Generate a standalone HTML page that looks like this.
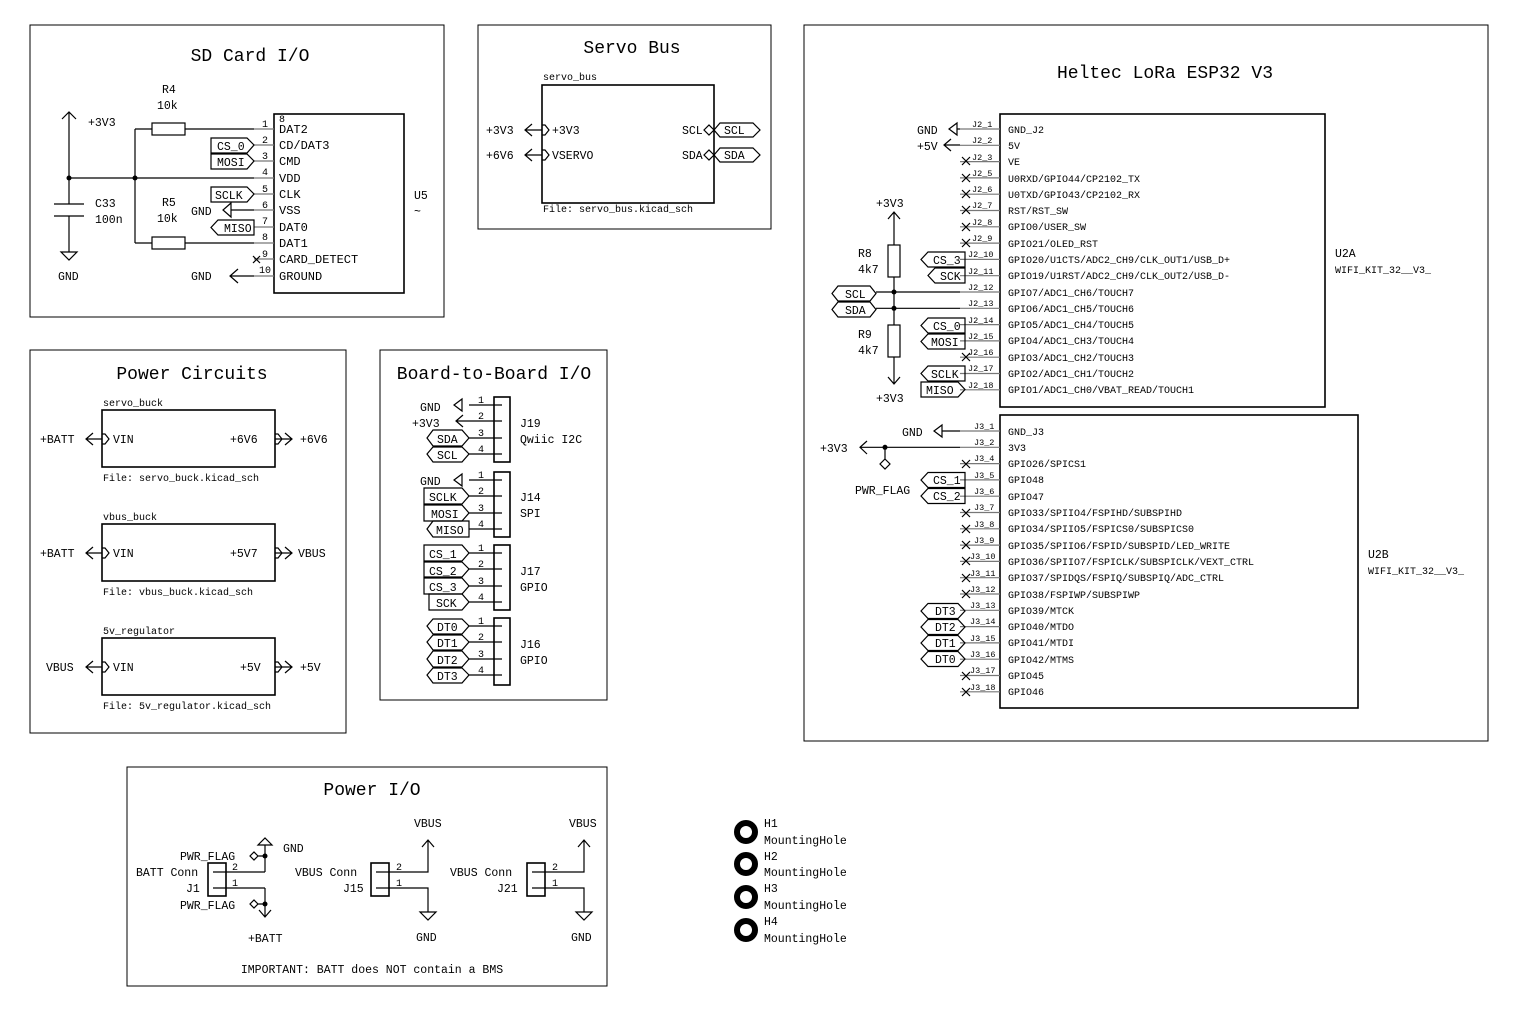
<!DOCTYPE html>
<html><head><meta charset="utf-8"><style>
html,body{margin:0;padding:0;background:#fff;}
svg{display:block}
text{font-family:"Liberation Mono",monospace;fill:#000}
.t{font-size:11.5px}
.s{font-size:10px}
.p{font-size:8.5px}
.q{font-size:10px}
.h{font-size:18px}
.w{stroke:#000;stroke-width:1.2;fill:none}
.g{stroke:#777;stroke-width:1.2;fill:none}
.f{stroke:#000;stroke-width:1;fill:none}
.b{stroke:#000;stroke-width:1.6;fill:none}
</style></head><body>
<svg width="1520" height="1010" viewBox="0 0 1520 1010" xmlns="http://www.w3.org/2000/svg">
<!-- FRAMES -->
<rect x="30" y="25" width="414" height="292" class="f"/>
<rect x="478" y="25" width="293" height="204" class="f"/>
<rect x="804" y="25" width="684" height="716" class="f"/>
<rect x="30" y="350" width="316" height="383" class="f"/>
<rect x="380" y="350" width="227" height="350" class="f"/>
<rect x="127" y="767" width="480" height="219" class="f"/>
<text x="250" y="61" class="h" text-anchor="middle">SD Card I/O</text>
<text x="632" y="53" class="h" text-anchor="middle">Servo Bus</text>
<text x="1165" y="78" class="h" text-anchor="middle">Heltec LoRa ESP32 V3</text>
<text x="192" y="379" class="h" text-anchor="middle">Power Circuits</text>
<text x="494" y="379" class="h" text-anchor="middle">Board-to-Board I/O</text>
<text x="372" y="795" class="h" text-anchor="middle">Power I/O</text>

<!-- SD CARD -->
<rect x="274" y="114" width="130" height="179" class="b"/>
<g class="g">
<path d="M254 129H274M254 145H274M254 161H274M254 178H274M254 194H274M254 210H274M254 227H274M254 243H274M254 259H274M254 276H274"/>
</g>
<g class="s">
<text x="262" y="127">1</text><text x="262" y="143">2</text><text x="262" y="159">3</text><text x="262" y="175">4</text><text x="262" y="192">5</text><text x="262" y="208">6</text><text x="262" y="224">7</text><text x="262" y="240">8</text><text x="262" y="257">9</text><text x="259" y="273">10</text>
</g>
<g style="font-size:12px">
<text x="279" y="133">DAT2</text><text x="279" y="149">CD/DAT3</text><text x="279" y="165">CMD</text><text x="279" y="182">VDD</text><text x="279" y="198">CLK</text><text x="279" y="214">VSS</text><text x="279" y="231">DAT0</text><text x="279" y="247">DAT1</text><text x="279" y="263">CARD_DETECT</text><text x="279" y="280">GROUND</text>
</g>
<g class="t">
<text x="279" y="122" class="s">8</text>
<text x="414" y="199">U5</text><text x="414" y="215">~</text>
<text x="88" y="126">+3V3</text><text x="95" y="207">C33</text><text x="95" y="223">100n</text><text x="58" y="280">GND</text>
<text x="162" y="93">R4</text><text x="157" y="109">10k</text><text x="162" y="206">R5</text><text x="157" y="222">10k</text>
<text x="191" y="215">GND</text><text x="191" y="280">GND</text>
</g>
<g class="w">
<path d="M69 112V204M69 216V252M62 119L69 112L76 119M54 204H84M54 216H84M61 252H77L69 260Z"/>
<path d="M69 178H254M135 129V243M135 129H152M185 129H254M135 243H152M185 243H254"/>
<rect x="152" y="123" width="33" height="12"/><rect x="152" y="237" width="33" height="12"/>
<path d="M231 210H254M231 203V217L223 210Z"/>
<path d="M230 276H254M238 269L230 276L238 283"/>
<path d="M253 256l7 7M253 263l7 -7"/>
</g>
<circle cx="69" cy="178" r="2.5"/><circle cx="135" cy="178" r="2.5"/>
<g class="w">
<path d="M211 138H247L254 145L247 153H211Z"/>
<path d="M211 154H247L254 161L247 169H211Z"/>
<path d="M211 187H247L254 194L247 202H211Z"/>
<path d="M218 220H254V235H218L211 227.5Z"/>
</g>
<g class="t"><text x="217" y="150">CS_0</text><text x="217" y="166">MOSI</text><text x="215" y="199">SCLK</text><text x="224" y="232">MISO</text></g>

<!-- SERVO BUS -->
<rect x="542" y="85" width="172" height="118" class="b"/>
<g class="t">
<text x="543" y="80" class="s">servo_bus</text>
<text x="543" y="212" class="s">File: servo_bus.kicad_sch</text>
<text x="486" y="134">+3V3</text><text x="486" y="159">+6V6</text>
<text x="552" y="134">+3V3</text><text x="552" y="159">VSERVO</text>
<text x="682" y="134">SCL</text><text x="682" y="159">SDA</text>
<text x="724" y="134">SCL</text><text x="724" y="159">SDA</text>
</g>
<g class="w">
<path d="M532 124L525 130L532 136M525 130H542M532 149L525 155L532 161M525 155H542"/>
<path d="M542 125H545L549 130L545 135H542M542 150H545L549 155L545 160H542"/>
<path d="M714 130L709 125L704 130L709 135ZM714 155L709 150L704 155L709 160Z"/>
<path d="M714 130L720 123H753L760 130L753 137H720Z"/>
<path d="M714 155L720 148H753L760 155L753 162H720Z"/>
</g>

<!-- HELTEC U2A -->
<rect x="1000" y="114" width="325" height="293" class="b"/>
<g class="g"><path d="M960 129H1000M960 145.3H1000M960 161.6H1000M960 177.9H1000M960 194.2H1000M960 210.5H1000M960 226.8H1000M960 243.1H1000M960 259.4H1000M960 275.7H1000M960 292H1000M960 308.3H1000M960 324.6H1000M960 340.9H1000M960 357.2H1000M960 373.5H1000M960 389.8H1000"/></g>
<g class="p">
<text x="972" y="127">J2_1</text><text x="972" y="143">J2_2</text><text x="972" y="160">J2_3</text><text x="972" y="176">J2_5</text><text x="972" y="192">J2_6</text><text x="972" y="208">J2_7</text><text x="972" y="225">J2_8</text><text x="972" y="241">J2_9</text><text x="968" y="257">J2_10</text><text x="968" y="274">J2_11</text><text x="968" y="290">J2_12</text><text x="968" y="306">J2_13</text><text x="968" y="323">J2_14</text><text x="968" y="339">J2_15</text><text x="968" y="355">J2_16</text><text x="968" y="371">J2_17</text><text x="968" y="388">J2_18</text>
</g>
<g class="q">
<text x="1008" y="133">GND_J2</text><text x="1008" y="149">5V</text><text x="1008" y="165">VE</text><text x="1008" y="182">U0RXD/GPIO44/CP2102_TX</text><text x="1008" y="198">U0TXD/GPIO43/CP2102_RX</text><text x="1008" y="214">RST/RST_SW</text><text x="1008" y="230">GPIO0/USER_SW</text><text x="1008" y="247">GPIO21/OLED_RST</text><text x="1008" y="263">GPIO20/U1CTS/ADC2_CH9/CLK_OUT1/USB_D+</text><text x="1008" y="279">GPIO19/U1RST/ADC2_CH9/CLK_OUT2/USB_D-</text><text x="1008" y="296">GPIO7/ADC1_CH6/TOUCH7</text><text x="1008" y="312">GPIO6/ADC1_CH5/TOUCH6</text><text x="1008" y="328">GPIO5/ADC1_CH4/TOUCH5</text><text x="1008" y="344">GPIO4/ADC1_CH3/TOUCH4</text><text x="1008" y="361">GPIO3/ADC1_CH2/TOUCH3</text><text x="1008" y="377">GPIO2/ADC1_CH1/TOUCH2</text><text x="1008" y="393">GPIO1/ADC1_CH0/VBAT_READ/TOUCH1</text>
</g>
<g class="t">
<text x="1335" y="257">U2A</text><text x="1335" y="273" class="s">WIFI_KIT_32__V3_</text>
<text x="917" y="134">GND</text><text x="917" y="150">+5V</text>
<text x="876" y="207">+3V3</text><text x="876" y="402">+3V3</text>
<text x="858" y="257">R8</text><text x="858" y="273">4k7</text><text x="858" y="338">R9</text><text x="858" y="354">4k7</text>
</g>
<g class="w">
<path d="M957 129H960M957 123V135L949 129Z"/>
<path d="M944 145H960M951 139L944 145L951 151"/>
<path d="M962 157l8 8M962 165l8-8M962 174l8 8M962 182l8-8M962 190l8 8M962 198l8-8M962 206l8 8M962 214l8-8M962 223l8 8M962 231l8-8M962 239l8 8M962 247l8-8M962 353l8 8M962 361l8-8"/>
<path d="M894 212V245M894 277V325M894 357V384M888 219L894 212L900 219M888 377L894 384L900 377"/>
<rect x="888" y="245" width="12" height="32"/><rect x="888" y="325" width="12" height="32"/>
<path d="M876 292H960M876 308.3H960"/>
<path d="M832 293.5L838 286H870L876 293.5L870 301H838Z"/>
<path d="M832 309.5L838 302H870L876 309.5L870 317H838Z"/>
<path d="M965 252V267H928L921 259.5L928 252Z"/>
<path d="M965 268V283H935L928 275.5L935 268Z"/>
<path d="M965 318V333H928L921 325.5L928 318Z"/>
<path d="M965 334V349H928L921 341.5L928 334Z"/>
<path d="M965 366V381H928L921 373.5L928 366Z"/>
<path d="M921 382H958L965 389.5L958 397H921Z"/>
</g>
<circle cx="894" cy="292" r="2.5"/><circle cx="894" cy="308.3" r="2.5"/>
<g class="t">
<text x="845" y="298">SCL</text><text x="845" y="314">SDA</text>
<text x="933" y="264">CS_3</text><text x="940" y="280">SCK</text><text x="933" y="330">CS_0</text><text x="931" y="346">MOSI</text><text x="931" y="378">SCLK</text><text x="926" y="394">MISO</text>
</g>

<!-- HELTEC U2B -->
<rect x="1000" y="415" width="358" height="293" class="b"/>
<g class="g"><path d="M960 431H1000M960 447.3H1000M960 463.6H1000M960 479.9H1000M960 496.2H1000M960 512.5H1000M960 528.8H1000M960 545.1H1000M960 561.4H1000M960 577.7H1000M960 594H1000M960 610.3H1000M960 626.6H1000M960 642.9H1000M960 659.2H1000M960 675.5H1000M960 691.8H1000"/></g>
<g class="p">
<text x="974" y="429">J3_1</text><text x="974" y="445">J3_2</text><text x="974" y="461">J3_4</text><text x="974" y="478">J3_5</text><text x="974" y="494">J3_6</text><text x="974" y="510">J3_7</text><text x="974" y="527">J3_8</text><text x="974" y="543">J3_9</text><text x="970" y="559">J3_10</text><text x="970" y="576">J3_11</text><text x="970" y="592">J3_12</text><text x="970" y="608">J3_13</text><text x="970" y="624">J3_14</text><text x="970" y="641">J3_15</text><text x="970" y="657">J3_16</text><text x="970" y="673">J3_17</text><text x="970" y="690">J3_18</text>
</g>
<g class="q">
<text x="1008" y="435">GND_J3</text><text x="1008" y="451">3V3</text><text x="1008" y="467">GPIO26/SPICS1</text><text x="1008" y="483">GPIO48</text><text x="1008" y="500">GPIO47</text><text x="1008" y="516">GPIO33/SPIIO4/FSPIHD/SUBSPIHD</text><text x="1008" y="532">GPIO34/SPIIO5/FSPICS0/SUBSPICS0</text><text x="1008" y="549">GPIO35/SPIIO6/FSPID/SUBSPID/LED_WRITE</text><text x="1008" y="565">GPIO36/SPIIO7/FSPICLK/SUBSPICLK/VEXT_CTRL</text><text x="1008" y="581">GPIO37/SPIDQS/FSPIQ/SUBSPIQ/ADC_CTRL</text><text x="1008" y="598">GPIO38/FSPIWP/SUBSPIWP</text><text x="1008" y="614">GPIO39/MTCK</text><text x="1008" y="630">GPIO40/MTDO</text><text x="1008" y="646">GPIO41/MTDI</text><text x="1008" y="663">GPIO42/MTMS</text><text x="1008" y="679">GPIO45</text><text x="1008" y="695">GPIO46</text>
</g>
<text x="1368" y="558" class="t">U2B</text><text x="1368" y="574" class="s">WIFI_KIT_32__V3_</text>
<g class="w">
<path d="M942 431H960M942 425V437L934 431Z"/>
<path d="M860 447.3H960M867 441L860 447.3L867 454M885 447.3V459M885 459L890 464L885 469L880 464Z"/>
<path d="M962 460l8 8M962 468l8-8M962 509l8 8M962 517l8-8M962 525l8 8M962 533l8-8M962 541l8 8M962 549l8-8M962 557l8 8M962 565l8-8M962 574l8 8M962 582l8-8M962 590l8 8M962 598l8-8M962 672l8 8M962 680l8-8M962 688l8 8M962 696l8-8"/>
<path d="M921 480L928 472.5H965V487.5H928Z"/>
<path d="M921 496L928 488.5H965V503.5H928Z"/>
<path d="M921 611L928 603.5H958L965 611L958 618.5H928Z"/>
<path d="M921 627L928 619.5H958L965 627L958 634.5H928Z"/>
<path d="M921 643L928 635.5H958L965 643L958 650.5H928Z"/>
<path d="M921 659L928 651.5H958L965 659L958 666.5H928Z"/>
</g>
<circle cx="885" cy="447.3" r="2.5"/>
<g class="t">
<text x="902" y="436">GND</text><text x="820" y="452">+3V3</text><text x="855" y="494">PWR_FLAG</text>
<text x="933" y="484">CS_1</text><text x="933" y="500">CS_2</text>
<text x="935" y="615">DT3</text><text x="935" y="631">DT2</text><text x="935" y="647">DT1</text><text x="935" y="663">DT0</text>
</g>

<!-- POWER CIRCUITS -->
<g class="b"><rect x="102" y="410" width="173" height="57"/><rect x="102" y="524" width="173" height="57"/><rect x="102" y="638" width="173" height="57"/></g>
<g class="s">
<text x="103" y="406">servo_buck</text><text x="103" y="481">File: servo_buck.kicad_sch</text>
<text x="103" y="520">vbus_buck</text><text x="103" y="595">File: vbus_buck.kicad_sch</text>
<text x="103" y="634">5v_regulator</text><text x="103" y="709">File: 5v_regulator.kicad_sch</text>
</g>
<g class="t">
<text x="40" y="443">+BATT</text><text x="113" y="443">VIN</text><text x="230" y="443">+6V6</text><text x="300" y="443">+6V6</text>
<text x="40" y="557">+BATT</text><text x="113" y="557">VIN</text><text x="230" y="557">+5V7</text><text x="298" y="557">VBUS</text>
<text x="46" y="671">VBUS</text><text x="113" y="671">VIN</text><text x="240" y="671">+5V</text><text x="300" y="671">+5V</text>
</g>
<g class="w">
<path d="M93 433L86 439L93 445M86 439H102M102 434H105L109 439L105 444H102M275 434H278L282 439L278 444H275M275 439H292M285 433L292 439L285 445"/>
<path d="M93 547L86 553L93 559M86 553H102M102 548H105L109 553L105 558H102M275 548H278L282 553L278 558H275M275 553H292M285 547L292 553L285 559"/>
<path d="M93 661L86 667L93 673M86 667H102M102 662H105L109 667L105 672H102M275 662H278L282 667L278 672H275M275 667H292M285 661L292 667L285 673"/>
</g>

<!-- BOARD TO BOARD -->
<g class="b"><rect x="494" y="397" width="16" height="65"/><rect x="494" y="472" width="16" height="65"/><rect x="494" y="545" width="16" height="65"/><rect x="494" y="618" width="16" height="67"/></g>
<g class="w">
<path d="M469 405H502M469 421H502M469 438H502M469 454H502M469 480H502M469 496H502M469 513H502M469 529H502M469 553H502M469 569H502M469 586H502M469 602H502M469 626H502M469 642H502M469 659H502M469 675H502"/>
<path d="M462 399V411L454 405Z"/>
<path d="M463 415L456 421L463 427M456 421H469"/>
<path d="M462 474V486L454 480Z"/>
<path d="M427 438L433 430H462L469 438L462 446H433Z"/>
<path d="M427 454L433 447H462L469 454L462 462H433Z"/>
<path d="M424 488H462L469 496L462 504H424Z"/>
<path d="M424 505H462L469 513L462 521H424Z"/>
<path d="M469 521V537H433L427 529L433 521Z"/>
<path d="M424 545H462L469 553L462 561H424Z"/>
<path d="M424 562H462L469 569L462 577H424Z"/>
<path d="M424 578H462L469 586L462 594H424Z"/>
<path d="M429 594H462L469 602L462 610H429Z"/>
<path d="M427 626L433 619H462L469 626L462 634H433Z"/>
<path d="M427 642L433 635H462L469 642L462 650H433Z"/>
<path d="M427 659L433 651H462L469 659L462 667H433Z"/>
<path d="M427 675L433 668H462L469 675L462 683H433Z"/>
</g>
<g class="s">
<text x="478" y="403">1</text><text x="478" y="419">2</text><text x="478" y="436">3</text><text x="478" y="452">4</text>
<text x="478" y="478">1</text><text x="478" y="494">2</text><text x="478" y="511">3</text><text x="478" y="527">4</text>
<text x="478" y="551">1</text><text x="478" y="567">2</text><text x="478" y="584">3</text><text x="478" y="600">4</text>
<text x="478" y="624">1</text><text x="478" y="640">2</text><text x="478" y="657">3</text><text x="478" y="673">4</text>
</g>
<g class="t">
<text x="420" y="411">GND</text><text x="412" y="427">+3V3</text><text x="437" y="443">SDA</text><text x="437" y="459">SCL</text>
<text x="420" y="485">GND</text><text x="429" y="501">SCLK</text><text x="431" y="518">MOSI</text><text x="436" y="534">MISO</text>
<text x="429" y="558">CS_1</text><text x="429" y="575">CS_2</text><text x="429" y="591">CS_3</text><text x="436" y="607">SCK</text>
<text x="437" y="631">DT0</text><text x="437" y="647">DT1</text><text x="437" y="664">DT2</text><text x="437" y="680">DT3</text>
<text x="520" y="427">J19</text><text x="520" y="443">Qwiic I2C</text>
<text x="520" y="501">J14</text><text x="520" y="517">SPI</text>
<text x="520" y="575">J17</text><text x="520" y="591">GPIO</text>
<text x="520" y="648">J16</text><text x="520" y="664">GPIO</text>
</g>

<!-- POWER I/O -->
<g class="b"><rect x="208" y="863" width="18" height="33"/><rect x="371" y="863" width="18" height="33"/><rect x="527" y="863" width="18" height="33"/></g>
<g class="w">
<path d="M213 872H265M213 888H265M265 872V845M258 845H272L265 838Z"/>
<path d="M265 888V917M259 910L265 917L271 910"/>
<path d="M265 856H258M258 856L254 852L250 856L254 860ZM265 904H258M258 904L254 900L250 904L254 908Z"/>
<path d="M376 872H428V840M422 847L428 840L434 847M376 888H428V912M420 912H436L428 920Z"/>
<path d="M532 872H584V840M578 847L584 840L590 847M532 888H584V912M576 912H592L584 920Z"/>
</g>
<circle cx="265" cy="856" r="2.5"/><circle cx="265" cy="904" r="2.5"/>
<g class="s"><text x="232" y="870">2</text><text x="232" y="886">1</text><text x="396" y="870">2</text><text x="396" y="886">1</text><text x="552" y="870">2</text><text x="552" y="886">1</text></g>
<g class="t">
<text x="180" y="860">PWR_FLAG</text><text x="136" y="876">BATT Conn</text><text x="186" y="892">J1</text><text x="180" y="909">PWR_FLAG</text>
<text x="283" y="852">GND</text><text x="248" y="942">+BATT</text>
<text x="295" y="876">VBUS Conn</text><text x="343" y="892">J15</text><text x="414" y="827">VBUS</text><text x="416" y="941">GND</text>
<text x="450" y="876">VBUS Conn</text><text x="497" y="892">J21</text><text x="569" y="827">VBUS</text><text x="571" y="941">GND</text>
<text x="372" y="973" text-anchor="middle">IMPORTANT: BATT does NOT contain a BMS</text>
</g>

<!-- MOUNTING HOLES -->
<g stroke="#000" stroke-width="6" fill="none">
<circle cx="746" cy="832" r="9"/><circle cx="746" cy="864" r="9"/><circle cx="746" cy="897" r="9"/><circle cx="746" cy="930" r="9"/>
</g>
<g class="t">
<text x="764" y="827">H1</text><text x="764" y="844">MountingHole</text>
<text x="764" y="860">H2</text><text x="764" y="876">MountingHole</text>
<text x="764" y="892">H3</text><text x="764" y="909">MountingHole</text>
<text x="764" y="925">H4</text><text x="764" y="942">MountingHole</text>
</g>
</svg>
</body></html>
